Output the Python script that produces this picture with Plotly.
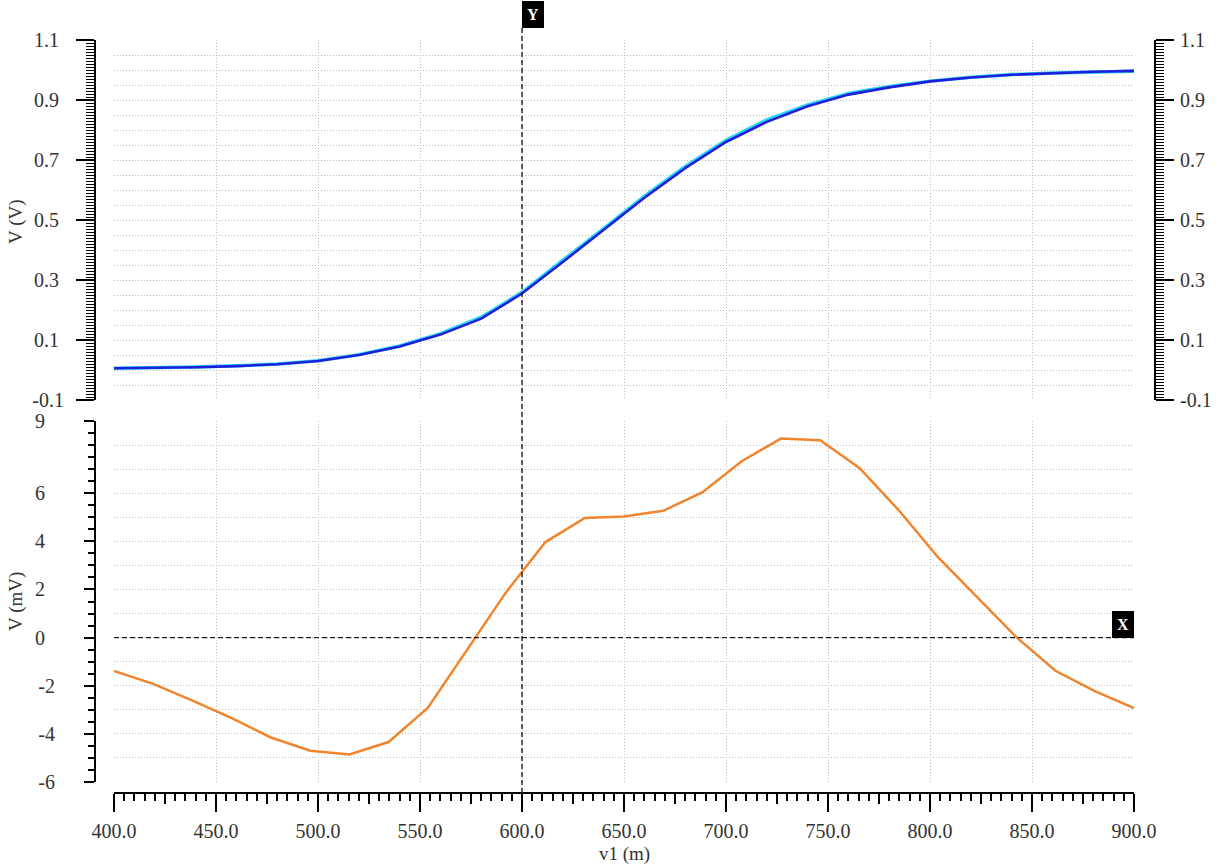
import plotly.graph_objects as go

W, H = 1221, 865

# ---------------- data ----------------
sweep_top = [400, 420, 440, 460, 480, 500, 520, 540, 560, 580, 600, 620, 640,
             660, 680, 700, 720, 740, 760, 780, 800, 820, 840, 860, 880, 900]
vout_cyan = [0.006, 0.007, 0.010, 0.014, 0.020, 0.031, 0.051, 0.080, 0.121, 0.176,
             0.259, 0.366, 0.471, 0.580, 0.679, 0.766, 0.834, 0.884, 0.922, 0.945,
             0.963, 0.976, 0.985, 0.990, 0.994, 0.996]
vout_blue = [0.006, 0.007, 0.009, 0.013, 0.019, 0.030, 0.050, 0.078, 0.118, 0.171,
             0.255, 0.360, 0.466, 0.574, 0.673, 0.760, 0.827, 0.879, 0.918, 0.942,
             0.962, 0.975, 0.984, 0.990, 0.994, 0.997]

sweep_bot = [400.0, 419.2, 438.5, 457.7, 476.9, 496.2, 515.4, 534.6, 553.8, 573.1,
             592.3, 611.5, 630.8, 650.0, 669.2, 688.5, 707.7, 726.9, 746.2, 765.4,
             784.6, 803.8, 823.1, 842.3, 861.5, 880.8, 900.0]
diff_mv = [-1.39, -1.92, -2.62, -3.35, -4.15, -4.70, -4.86, -4.34, -2.92, -0.50,
           1.90, 3.97, 4.97, 5.03, 5.27, 6.04, 7.33, 8.27, 8.20, 7.05,
           5.30, 3.35, 1.68, 0.02, -1.38, -2.22, -2.93]

x_tickvals = [400, 450, 500, 550, 600, 650, 700, 750, 800, 850, 900]
x_ticktext = ["400.0", "450.0", "500.0", "550.0", "600.0", "650.0", "700.0",
              "750.0", "800.0", "850.0", "900.0"]
x_midticks = [425, 475, 525, 575, 625, 675, 725, 775, 825, 875]
x_minorticks = [400 + 5 * i for i in range(101)]

top_tickvals = [-0.1, 0.0, 0.1, 0.2, 0.3, 0.4, 0.5, 0.6, 0.7, 0.8, 0.9, 1.0, 1.1]
top_ticktext = ["-0.1", "", "0.1", "", "0.3", "", "0.5", "", "0.7", "", "0.9", "", "1.1"]
top_gridvals = [round(-0.1 + 0.05 * i, 3) for i in range(25)]
top_minorticks = [round(-0.1 + 0.01 * i, 3) for i in range(121)]

bot_tickvals = [-6, -5, -4, -3, -2, -1, 0, 1, 2, 3, 4, 5, 6, 7, 8, 9]
bot_ticktext = ["-6", "", "-4", "", "-2", "", "0", "", "2", "", "4", "", "6", "", "", "9"]
bot_minorticks = [-6 + 0.5 * i for i in range(31)]

cursor_x = 600
cursor_y = 0

# ---------------- style ----------------
FONT = "Liberation Serif"
TXT = "#333333"
GRID = "#b9b9b9"
GRIDDASH = "1px,2px"


def px_x(p):
    return p / W


def px_y(p):
    return 1 - p / H


XDOM = [px_x(114), px_x(1134)]
TOPDOM = [px_y(400), px_y(40)]
BOTDOM = [px_y(782), px_y(421)]

tickfont = dict(family=FONT, size=20, color=TXT)
titlefont = dict(family=FONT, size=19, color=TXT)

fig = go.Figure()
fig.add_trace(go.Scatter(x=sweep_top, y=vout_cyan, mode="lines", xaxis="x2", yaxis="y",
                         line=dict(color="#27d8f2", width=3.4), hoverinfo="skip"))
fig.add_trace(go.Scatter(x=sweep_top, y=vout_blue, mode="lines", xaxis="x2", yaxis="y",
                         line=dict(color="#1e1edc", width=2.6), hoverinfo="skip"))
fig.add_trace(go.Scatter(x=sweep_bot, y=diff_mv, mode="lines", xaxis="x", yaxis="y3",
                         line=dict(color="#f0852d", width=2.5), hoverinfo="skip"))

# empty carriers so the tick-only overlay axes get drawn
for xa, ya in [("x2", "y2"), ("x2", "y4"), ("x3", "y3"), ("x4", "y3"), ("x", "y5")]:
    fig.add_trace(go.Scatter(x=[None], y=[None], mode="lines", xaxis=xa, yaxis=ya,
                             showlegend=False, hoverinfo="skip"))

top_left_text = [t if (t.startswith("-") or t == "") else t + "\u2008" for t in top_ticktext]
bot_left_text = [t if (t.startswith("-") or t == "") else t + "\u2007" for t in bot_ticktext]

grid = dict(showgrid=True, gridcolor=GRID, griddash=GRIDDASH, gridwidth=1)
notick = dict(ticks="", showticklabels=False, showline=False, zeroline=False,
              automargin=False)
tk = dict(ticks="outside", tickwidth=1.5, tickcolor="black", showline=True,
          linecolor="black", linewidth=2, showgrid=False, zeroline=False,
          automargin=False, tickfont=tickfont, tickmode="array")

fig.update_layout(
    width=W, height=H,
    margin=dict(l=0, r=0, t=0, b=0, autoexpand=False),
    paper_bgcolor="white", plot_bgcolor="white",
    showlegend=False,
    # grid axes carrying the data
    xaxis=dict(domain=XDOM, range=[400, 900], anchor="y3", tickmode="array",
               tickvals=x_tickvals, **grid, **notick),
    xaxis2=dict(domain=XDOM, range=[400, 900], anchor="y", tickmode="array",
                tickvals=x_tickvals, **grid, **notick),
    yaxis=dict(domain=TOPDOM, range=[-0.1, 1.1], anchor="x2", tickmode="array",
               tickvals=top_gridvals, **grid, **notick),
    yaxis3=dict(domain=BOTDOM, range=[-6, 9], anchor="x", tickmode="array",
                tickvals=bot_tickvals, **grid, **notick),
    # bottom x ticks and labels
    xaxis3=dict(overlaying="x", range=[400, 900], anchor="free", position=px_y(793),
                tickvals=x_tickvals, ticktext=x_ticktext, ticklen=18,
                ticklabelstandoff=2,
                minor=dict(tickmode="array", tickvals=x_minorticks, ticks="outside",
                           ticklen=7, tickwidth=1.5, tickcolor="black", showgrid=False),
                **tk),
    xaxis4=dict(overlaying="x", range=[400, 900], anchor="free", position=px_y(793),
                tickmode="array", tickvals=x_midticks, ticks="outside", ticklen=10,
                tickwidth=1.5, tickcolor="black", showticklabels=False,
                showline=False, showgrid=False, zeroline=False, automargin=False),
    # top left
    yaxis2=dict(overlaying="y", range=[-0.1, 1.1], anchor="free", position=px_x(95),
                side="left", tickvals=top_tickvals, ticktext=top_left_text, ticklen=18,
                ticklabelstandoff=8,
                minor=dict(tickmode="array", tickvals=top_minorticks, ticks="outside",
                           ticklen=8, tickwidth=1.2, tickcolor="black", showgrid=False),
                **tk),
    # top right
    yaxis4=dict(overlaying="y", range=[-0.1, 1.1], anchor="free", position=px_x(1155),
                side="right", tickvals=top_tickvals, ticktext=top_ticktext, ticklen=18,
                ticklabelstandoff=2,
                minor=dict(tickmode="array", tickvals=top_minorticks, ticks="outside",
                           ticklen=8, tickwidth=1.2, tickcolor="black", showgrid=False),
                **tk),
    # bottom left
    yaxis5=dict(overlaying="y3", range=[-6, 9], anchor="free", position=px_x(95),
                side="left", tickvals=bot_tickvals, ticktext=bot_left_text, ticklen=10,
                ticklabelstandoff=25,
                minor=dict(tickmode="array", tickvals=bot_minorticks, ticks="outside",
                           ticklen=6, tickwidth=1.5, tickcolor="black", showgrid=False),
                **tk),
)

fig.add_shape(type="line", xref="x", yref="paper", x0=cursor_x, x1=cursor_x,
              y0=px_y(793), y1=px_y(28),
              line=dict(color="#1a1a1a", width=1.4, dash="5px,3px"))
fig.add_shape(type="line", xref="x", yref="y3", x0=400, x1=900, y0=cursor_y, y1=cursor_y,
              line=dict(color="#1a1a1a", width=1.4, dash="5px,3px"))

fig.add_annotation(text="<b>Y</b>", x=cursor_x, xref="x", xanchor="left",
                   y=px_y(28), yref="paper", yanchor="bottom", showarrow=False,
                   font=dict(family=FONT, size=16, color="white"),
                   bgcolor="black", bordercolor="black", borderwidth=1, borderpad=4)
fig.add_annotation(text="<b>X</b>", x=900, xref="x", xanchor="right",
                   y=cursor_y, yref="y3", yanchor="bottom", showarrow=False,
                   font=dict(family=FONT, size=16, color="white"),
                   bgcolor="black", bordercolor="black", borderwidth=1, borderpad=4)

fig.add_annotation(text="V (V)", x=px_x(16), y=px_y(222), xref="paper", yref="paper",
                   xanchor="center", yanchor="middle",
                   textangle=-90, showarrow=False, font=titlefont)
fig.add_annotation(text="V (mV)", x=px_x(16), y=px_y(602), xref="paper", yref="paper",
                   xanchor="center", yanchor="middle",
                   textangle=-90, showarrow=False, font=titlefont)
fig.add_annotation(text="v1 (m)", x=px_x(624), y=px_y(854), xref="paper", yref="paper",
                   xanchor="center", yanchor="middle",
                   showarrow=False, font=titlefont)

fig.write_html("out.html", config={"displayModeBar": False},
               post_script="document.body.style.margin='0px';")
